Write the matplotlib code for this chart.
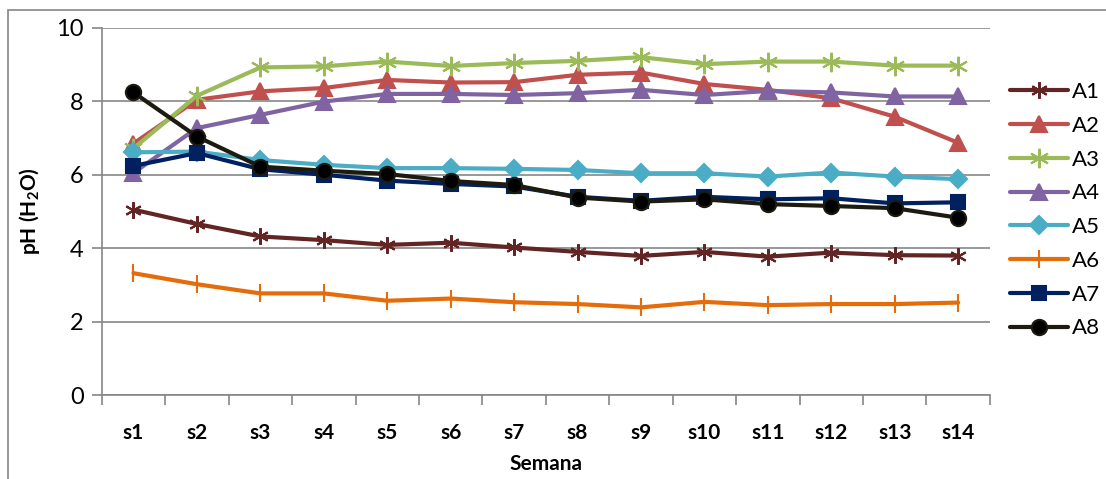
import matplotlib.pyplot as plt
from matplotlib.patches import Rectangle

plt.rcParams["font.family"] = ["Lato", "DejaVu Sans"]
plt.rcParams["mathtext.fontset"] = "custom"
plt.rcParams["mathtext.rm"] = "Lato:bold"

weeks = ["s1", "s2", "s3", "s4", "s5", "s6", "s7", "s8", "s9", "s10", "s11", "s12", "s13", "s14"]

a1 = [5.05, 4.66, 4.32, 4.22, 4.09, 4.15, 4.02, 3.90, 3.79, 3.90, 3.77, 3.88, 3.81, 3.80]
a2 = [6.85, 8.04, 8.27, 8.36, 8.58, 8.51, 8.52, 8.72, 8.78, 8.47, 8.31, 8.08, 7.58, 6.87]
a3 = [6.72, 8.15, 8.92, 8.95, 9.08, 8.96, 9.04, 9.10, 9.20, 9.01, 9.08, 9.08, 8.97, 8.97]
a4 = [6.05, 7.27, 7.63, 7.99, 8.20, 8.20, 8.17, 8.22, 8.31, 8.17, 8.28, 8.24, 8.13, 8.13]
a5 = [6.61, 6.63, 6.40, 6.27, 6.18, 6.18, 6.16, 6.13, 6.04, 6.04, 5.95, 6.06, 5.95, 5.88]
a6 = [3.32, 3.02, 2.77, 2.77, 2.57, 2.63, 2.53, 2.48, 2.39, 2.54, 2.45, 2.48, 2.48, 2.52]
a7 = [6.24, 6.59, 6.15, 6.00, 5.84, 5.75, 5.68, 5.40, 5.29, 5.40, 5.33, 5.36, 5.22, 5.25]
a8 = [8.24, 7.04, 6.22, 6.11, 6.02, 5.83, 5.72, 5.38, 5.27, 5.33, 5.20, 5.15, 5.09, 4.83]

series = [
    ("A1", a1, "#632523", (6, 2, 0), 12),
    ("A2", a2, "#C0504D", "^", 11),
    ("A3", a3, "#9BBB59", (6, 2, 0), 14),
    ("A4", a4, "#8064A2", "^", 11),
    ("A5", a5, "#4BACC6", "D", 9),
    ("A6", a6, "#E46C0A", "|", 13),
    ("A7", a7, "#002060", "s", 10),
    ("A8", a8, "#1D1B10", "o", 11),
]

fig = plt.figure(figsize=(11.06, 4.79), dpi=100)
ax = fig.add_axes([0.092, 0.175, 0.803, 0.767])

x = list(range(len(weeks)))
for name, vals, col, mk, ms in series:
    face = "black" if name == "A8" else col
    ax.plot(x, vals, color=col, linewidth=3, marker=mk, markersize=ms,
            markerfacecolor=face, markeredgecolor=col,
            markeredgewidth=1.5, label=name, solid_capstyle="round")

ax.set_ylim(0, 10)
ax.set_yticks([0, 2, 4, 6, 8, 10])
ax.set_xlim(-0.5, len(weeks) - 0.5)
ax.set_xticks([i - 0.5 for i in range(len(weeks) + 1)])
ax.set_xticklabels([])
ax.set_xticks(x, minor=True)
ax.set_xticklabels(weeks, minor=True, fontweight="bold", fontsize=15)
ax.tick_params(axis="x", which="minor", length=0, pad=20)
ax.tick_params(axis="x", which="major", length=7, color="#868686", width=1.2)
ax.tick_params(axis="y", length=7, color="#868686", width=1.2, labelsize=17, pad=6)

ax.grid(axis="y", color="#868686", linewidth=1.2)
ax.set_axisbelow(True)
for s in ["top", "right"]:
    ax.spines[s].set_visible(False)
for s in ["left", "bottom"]:
    ax.spines[s].set_color("#868686")
    ax.spines[s].set_linewidth(1.2)

ax.set_ylabel(r"pH (H$_2$O)", fontweight="bold", fontsize=15, labelpad=10)
ax.set_xlabel("Semana", fontweight="bold", fontsize=15, labelpad=8)

ax.legend(loc="upper left", bbox_to_anchor=(0.903, 0.852), bbox_transform=fig.transFigure,
          frameon=False, fontsize=16, handlelength=2.6, labelspacing=0.62,
          handletextpad=0.2, borderpad=0)

fig.patches.append(Rectangle((0.0072, -0.1), 1.2, 1.079, transform=fig.transFigure,
                             fill=False, edgecolor="#868686", linewidth=1.2))

fig.savefig("out.png", dpi=100)
